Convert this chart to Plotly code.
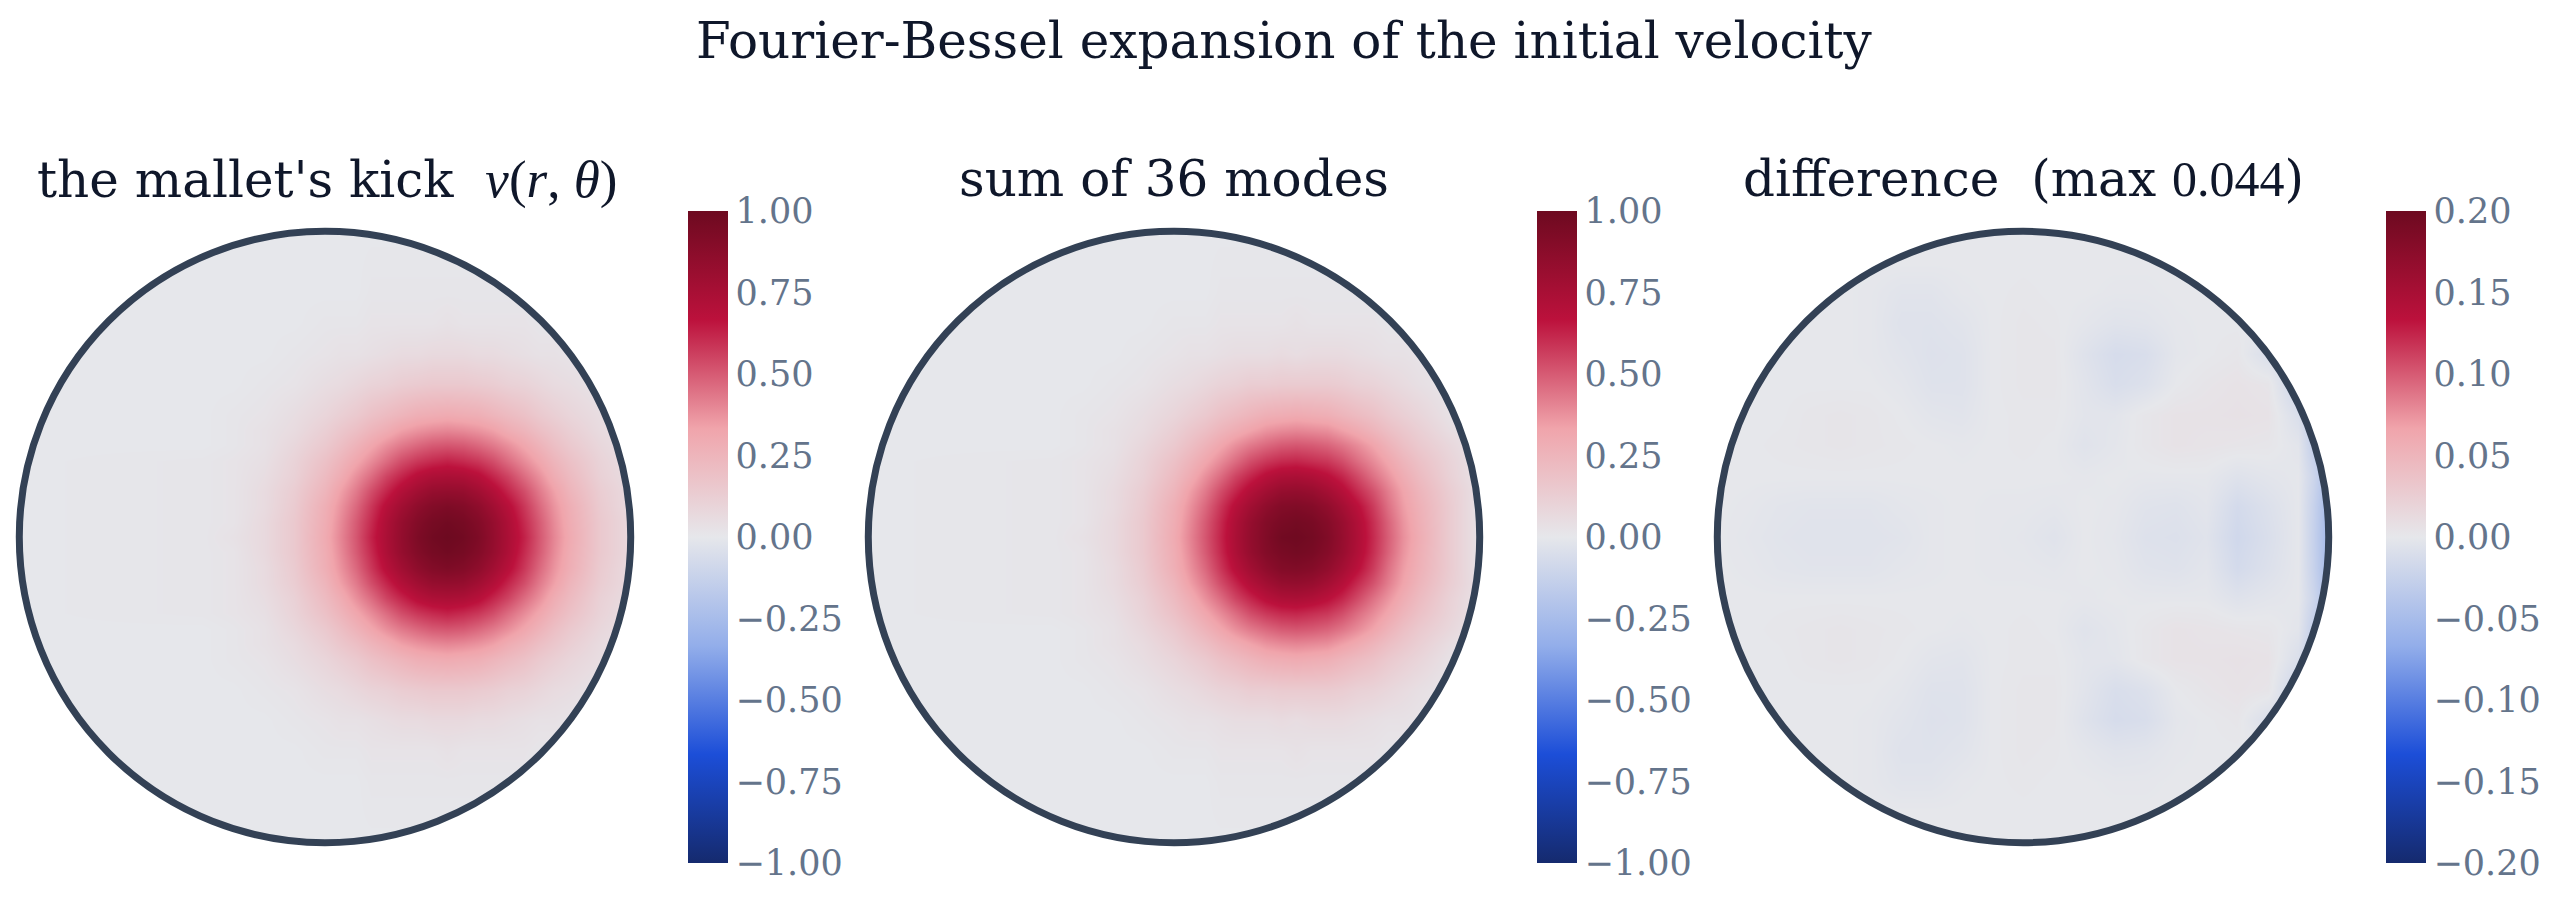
import numpy as np
import plotly.graph_objects as go

TITLE = "Fourier-Bessel expansion of the initial velocity"
MATH = "font-family:'Liberation Serif'"
SUBTITLES = [
    f"the mallet's kick  <span style=\"{MATH};font-size:53px\"><i>v</i>(<i>r</i>, <i>θ</i>)</span>",
    "sum of 36 modes",
    f"difference  (max <span style=\"{MATH}\">0.044</span>)",
]
TICKS_UNIT = [1.0, 0.75, 0.5, 0.25, 0.0, -0.25, -0.5, -0.75, -1.0]
TICKS_DIFF = [0.2, 0.15, 0.1, 0.05, 0.0, -0.05, -0.1, -0.15, -0.2]

BLOB_X = [-1, -.4, -.3, -.2, -.1, 0, .05, .1, .15, .2, .25, .3, .35, .4, .45, .5, .55, .6, .65, .7, .75, .8, .9, 1]
BLOB_Y_UP = [0, .05, .1, .15, .2, .25, .3, .35, .4, .5, .6, .7, .8, 1]

K00 = [0,.01,.03,.07,.15,.30,.40,.51,.63,.74,.84,.93,.98,1,.98,.93,.84,.74,.63,.51,.40,.30,.15,.07]
K05 = [0,.01,.02,.07,.15,.29,.39,.50,.61,.73,.83,.91,.96,.98,.96,.91,.83,.73,.61,.50,.39,.29,.15,.07]
K10 = [0,.01,.02,.06,.14,.28,.37,.47,.58,.69,.78,.86,.91,.93,.91,.86,.78,.69,.58,.47,.37,.28,.14,.06]
K15 = [0,.01,.02,.06,.13,.25,.34,.43,.53,.62,.71,.78,.83,.84,.83,.78,.71,.62,.53,.43,.34,.25,.13,.06]
K20 = [0,.01,.02,.05,.11,.22,.29,.38,.46,.55,.62,.69,.73,.74,.73,.69,.62,.55,.46,.38,.29,.22,.11,.05]
K25 = [0,.01,.02,.04,.10,.19,.25,.32,.39,.46,.53,.58,.61,.63,.61,.58,.53,.46,.39,.32,.25,.19,.10,.04]
K30 = [0,0,.01,.03,.08,.15,.20,.26,.32,.38,.43,.47,.50,.51,.50,.47,.43,.38,.32,.26,.20,.15,.08,.03]
K35 = [0,0,.01,.03,.06,.12,.16,.20,.25,.29,.34,.37,.39,.40,.39,.37,.34,.29,.25,.20,.16,.12,.06,.03]
K40 = [0,0,.01,.02,.05,.09,.12,.15,.19,.22,.25,.28,.29,.30,.29,.28,.25,.22,.19,.15,.12,.09,.05,.02]
K50 = [0,0,0,.01,.02,.05,.06,.08,.10,.11,.13,.14,.15,.15,.15,.14,.13,.11,.10,.08,.06,.05,.02,.01]
K60 = [0,0,0,0,.01,.02,.03,.03,.04,.05,.06,.06,.07,.07,.07,.06,.06,.05,.04,.03,.03,.02,.01,0]
K70 = [0,0,0,0,0,.01,.01,.01,.02,.02,.02,.02,.02,.03,.02,.02,.02,.02,.02,.01,.01,.01,0,0]
K80 = [0,0,0,0,0,0,0,0,.01,.01,.01,.01,.01,.01,.01,.01,.01,.01,.01,0,0,0,0,0]
K100 = [0]*24

S00 = [0,.01,.03,.07,.15,.30,.40,.51,.62,.74,.84,.92,.98,.99,.97,.92,.83,.73,.61,.49,.38,.29,.14,.02]
S05 = [0,.01,.02,.07,.15,.29,.39,.50,.61,.73,.83,.91,.95,.97,.95,.90,.82,.72,.60,.48,.37,.28,.14,.02]
S10 = [0,.01,.02,.06,.14,.28,.37,.47,.58,.69,.78,.86,.91,.92,.90,.85,.77,.68,.57,.45,.35,.27,.14,.02]
S15 = [0,.01,.02,.06,.13,.25,.34,.43,.53,.62,.71,.78,.83,.84,.82,.77,.70,.61,.52,.42,.33,.25,.13,.03]
S20 = [0,.01,.02,.05,.11,.22,.29,.38,.46,.55,.62,.69,.73,.74,.72,.68,.62,.54,.45,.37,.29,.22,.11,.02]
S25 = [0,.01,.02,.04,.10,.19,.25,.32,.39,.46,.53,.58,.61,.62,.60,.58,.53,.46,.39,.32,.25,.19,.10,.02]
S30 = [0,0,.01,.03,.08,.15,.20,.26,.32,.38,.43,.47,.50,.51,.50,.48,.44,.39,.33,.26,.20,.15,.08,.01]
S35 = [0,0,.01,.03,.06,.12,.16,.20,.25,.29,.33,.37,.39,.40,.39,.38,.34,.30,.25,.20,.16,.12,.05,.01]
S40 = [0,0,.01,.02,.05,.09,.12,.15,.19,.22,.25,.28,.29,.30,.29,.28,.25,.22,.19,.15,.12,.09,.03,0]
S50 = [0,0,0,.01,.02,.05,.06,.08,.10,.11,.13,.13,.14,.14,.14,.14,.13,.11,.10,.08,.06,.04,.01,0]
S60 = [0,0,0,0,.01,.02,.03,.03,.04,.05,.05,.05,.06,.05,.06,.06,.06,.05,.04,.03,.03,.02,0,0]

DIFF_X = [-1,-.9,-.8,-.7,-.6,-.5,-.4,-.3,-.2,-.1,0,.1,.2,.3,.4,.5,.6,.7,.8,.9,.95,1]
DIFF_Y_UP = [0,.1,.2,.3,.4,.5,.6,.7,.8,.9,1]
# thousandths of the velocity
D0 = [0,-2,-4,-5,-5,-5,-4,-1,0,-1,-2,-5,0,-2,-7,-8,-5,-18,-10,-1,-25,-56]
D1 = [0,-1,-3,-4,-4,-4,-2,-1,0,-1,-1,-2,0,-1,-5,-6,-3,-15,-8,-1,-24,-54]
D2 = [0,0,0,0,0,0,0,0,0,0,0,0,-1,0,-1,-1,-1,-6,-3,-1,-20,-48]
D3 = [0,0,1,2,3,2,1,0,-1,0,1,0,-5,-2,2,5,4,3,2,-3,-28,-40]
D4 = [0,0,0,2,3,2,0,-3,-4,0,1,1,-3,-3,2,5,5,6,5,-10,-32,-32]
D5 = [0,0,0,0,0,0,-2,-6,-6,0,2,2,-4,-11,-8,0,3,5,3,-22,-22,-22]
D6 = [0,0,0,0,0,-1,-4,-7,-6,0,2,2,-6,-13,-11,-2,0,2,-10,-10,-10,-10]
D7 = [0,0,0,0,0,-1,-6,-6,-4,0,2,1,-2,-5,-4,-1,0,0,0,0,0,0]
D8 = [0,0,0,0,0,-1,-4,-4,-1,0,1,0,0,-1,-1,0,0,0,0,0,0,0]
D9 = [0]*22
D10 = [0]*22

KICK_UP = [K00, K05, K10, K15, K20, K25, K30, K35, K40, K50, K60, K70, K80, K100]
SUM_UP = [S00, S05, S10, S15, S20, S25, S30, S35, S40, S50, S60, K70, K80, K100]
DIFF_UP = [D0, D1, D2, D3, D4, D5, D6, D7, D8, D9, D10]


def mirrored(rows):
    return rows[:0:-1] + rows


def mirrored_y(ys):
    return [-v for v in ys[:0:-1]] + ys


blob_y = mirrored_y(BLOB_Y_UP)
diff_y = mirrored_y(DIFF_Y_UP)
panels = [
    (BLOB_X, blob_y, mirrored(KICK_UP), 1.0, TICKS_UNIT),
    (BLOB_X, blob_y, mirrored(SUM_UP), 1.0, TICKS_UNIT),
    (DIFF_X, diff_y, (np.array(mirrored(DIFF_UP)) / 1000).tolist(), 0.2, TICKS_DIFF),
]

W, H = 2559, 902
COLORSCALE = [
    [0, "#152a6e"], [1/6, "#1c4ed8"], [1/3, "#93aeea"], [0.5, "#e6e7eb"],
    [2/3, "#f0a4ab"], [5/6, "#bc113c"], [1, "#6d0a20"],
]
CENTERS_PX = [325, 1174, 2023]
CY_PX = 537
HALF_PX = 321
SPAN = 1.05
BAR_X_PX = [688, 1537, 2386]
SUB_X_PX = [327, 1174, 2024]
INK = "#0f172a"
TICK = "#64748b"
FONT = "DejaVu Serif"

fig = go.Figure()
theta = np.linspace(0, 2 * np.pi, 361)[:-1]
hole = "M" + "L".join(f"{np.cos(t):.5f},{np.sin(t):.5f}" for t in theta) + "Z"
outer = "M-2,-2L2,-2L2,2L-2,2Z"

for i, (x, y, z, vmax, ticks) in enumerate(panels):
    suffix = "" if i == 0 else str(i + 1)
    cx = CENTERS_PX[i]
    fig.add_trace(go.Heatmap(
        x=x, y=y, z=z, zmin=-vmax, zmax=vmax, zsmooth="best", colorscale=COLORSCALE,
        xaxis="x" + suffix, yaxis="y" + suffix, hoverinfo="skip",
        colorbar=dict(
            x=BAR_X_PX[i] / W, xanchor="left", xref="paper", thickness=40, thicknessmode="pixels",
            y=1 - 211 / H, yanchor="top", yref="paper", len=652 / H, lenmode="fraction",
            xpad=0, ypad=0, outlinewidth=0, borderwidth=0, ticks="", ticklen=0,
            tickmode="array", tickvals=ticks, tickformat=".2f",
            tickfont=dict(family=FONT, size=35, color=TICK),
        ),
    ))
    axis = dict(visible=False, range=[-SPAN, SPAN], fixedrange=True)
    fig.update_layout({
        "xaxis" + suffix: dict(axis, domain=[(cx - HALF_PX) / W, (cx + HALF_PX) / W], anchor="y" + suffix),
        "yaxis" + suffix: dict(axis, domain=[1 - (CY_PX + HALF_PX) / H, 1 - (CY_PX - HALF_PX) / H], anchor="x" + suffix),
    })
    xref, yref = "x" + suffix, "y" + suffix
    fig.add_shape(type="path", path=outer + hole, fillrule="evenodd", xref=xref, yref=yref,
                  fillcolor="white", line=dict(width=0), layer="above")
    fig.add_shape(type="circle", x0=-1, x1=1, y0=-1, y1=1, xref=xref, yref=yref,
                  line=dict(color="#334155", width=7), layer="above")
    fig.add_annotation(text=SUBTITLES[i], x=SUB_X_PX[i] / W, y=1 - 179 / H, xref="paper", yref="paper",
                       xanchor="center", yanchor="middle", showarrow=False,
                       font=dict(family=FONT, size=50, color=INK))

fig.add_annotation(text=TITLE, x=1285 / W, y=1 - 41 / H, xref="paper", yref="paper",
                   xanchor="center", yanchor="middle", showarrow=False,
                   font=dict(family=FONT, size=50, color=INK))
fig.update_layout(width=W, height=H, margin=dict(l=0, r=0, t=0, b=0), paper_bgcolor="white",
                  plot_bgcolor="white", font=dict(family=FONT))
fig.write_html("out.html", config={"displayModeBar": False},
               post_script="document.body.style.margin='0';")
